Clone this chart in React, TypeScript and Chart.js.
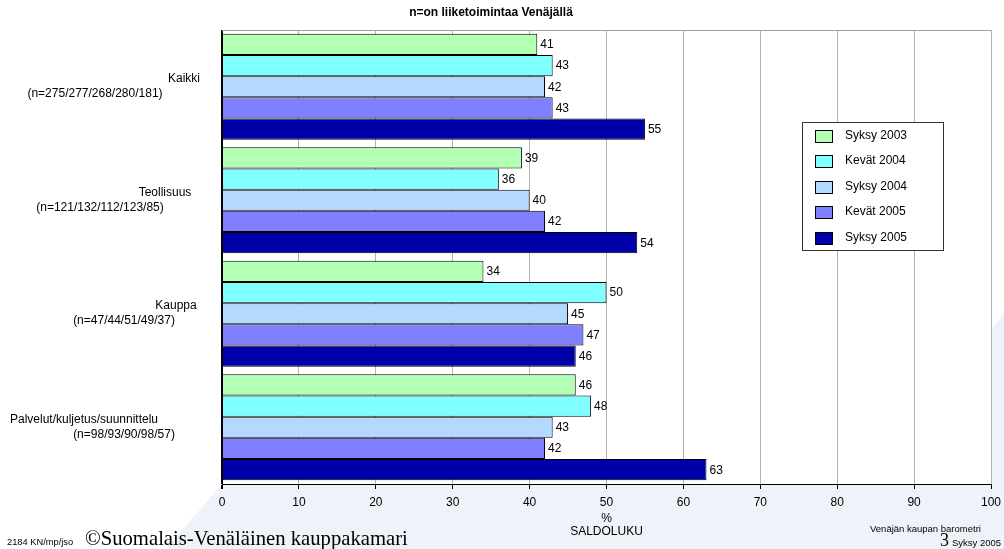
import React, { useEffect, useRef } from 'react';
import { Chart, registerables } from 'chart.js';

Chart.register(...registerables);

// ---------- data ----------
const categories = ['Kaikki', 'Teollisuus', 'Kauppa', 'Palvelut/kuljetus/suunnittelu'];
const sampleSizes = [
  '(n=275/277/268/280/181)',
  '(n=121/132/112/123/85)',
  '(n=47/44/51/49/37)',
  '(n=98/93/90/98/57)',
];
const seriesNames = ['Syksy 2003', 'Kevät 2004', 'Syksy 2004', 'Kevät 2005', 'Syksy 2005'];
const syksy2003 = [41, 39, 34, 46];
const kevat2004 = [43, 36, 50, 48];
const syksy2004 = [42, 40, 45, 43];
const kevat2005 = [43, 42, 47, 42];
const syksy2005 = [55, 54, 46, 63];
const seriesValues = [syksy2003, kevat2004, syksy2004, kevat2005, syksy2005];
const xMin = 0;
const xMax = 100;
const xStep = 10;
const chartTitle = 'n=on liiketoimintaa Venäjällä';
const axisTitle = ['%', 'SALDOLUKU'];

// ---------- styles / layout ----------
const seriesColors = ['#b3ffb3', '#80ffff', '#b3d9ff', '#8080ff', '#0000aa'];
const SANS = '"Liberation Sans", Arial, sans-serif';
const SERIF = '"Liberation Serif", "Times New Roman", serif';
// centre x of the two lines of each category label
const labelLine1X = [184, 165, 176, 84];
const labelLine2X = [95, 100, 124, 124];

const W = 1004;
const H = 549;

const decorPlugin = {
  id: 'decor',
  beforeDraw(chart: any) {
    const { ctx, chartArea: a } = chart;
    ctx.save();
    ctx.fillStyle = '#ffffff';
    ctx.fillRect(0, 0, W, H);
    // faint slide background shape
    ctx.fillStyle = '#eef2f9';
    ctx.beginPath();
    ctx.moveTo(166, H);
    ctx.lineTo(a.left, a.bottom);
    ctx.lineTo(a.right, 330);
    ctx.lineTo(W, 313);
    ctx.lineTo(W, H);
    ctx.closePath();
    ctx.fill();
    ctx.fillStyle = '#ffffff';
    ctx.fillRect(a.left, a.top, a.right - a.left, a.bottom - a.top);
    ctx.restore();
  },
  afterDatasetsDraw(chart: any) {
    const { ctx } = chart;
    ctx.save();
    ctx.font = `12px ${SANS}`;
    ctx.fillStyle = '#000';
    ctx.textAlign = 'left';
    ctx.textBaseline = 'middle';
    chart.data.datasets.forEach((ds: any, i: number) => {
      const meta = chart.getDatasetMeta(i);
      meta.data.forEach((el: any, j: number) => {
        ctx.fillText(String(ds.data[j]), el.x + 3, el.y + 0.5);
      });
    });
    ctx.restore();
  },
  afterDraw(chart: any) {
    const { ctx, chartArea: a, scales } = chart;
    ctx.save();
    // top border of plot
    ctx.strokeStyle = '#a0a0a0';
    ctx.lineWidth = 1;
    ctx.beginPath();
    ctx.moveTo(a.left, a.top + 0.5);
    ctx.lineTo(a.right, a.top + 0.5);
    ctx.stroke();

    // title
    ctx.fillStyle = '#000';
    ctx.font = `bold 12px ${SANS}`;
    ctx.textAlign = 'center';
    ctx.textBaseline = 'middle';
    ctx.fillText(chartTitle, 491, 13);

    // category labels
    ctx.font = `12px ${SANS}`;
    const y = scales.y;
    categories.forEach((c, i) => {
      const cy = y.getPixelForValue(i);
      ctx.fillText(c, labelLine1X[i], cy - 8);
      ctx.fillText(sampleSizes[i], labelLine2X[i], cy + 7);
    });

    // axis title
    const cx = (a.left + a.right) / 2;
    ctx.fillText(axisTitle[0], cx, 519);
    ctx.fillText(axisTitle[1], cx, 532);

    // legend
    const lx = 802, ly = 122, lw = 141, lh = 128;
    ctx.fillStyle = '#fff';
    ctx.fillRect(lx, ly, lw, lh);
    ctx.strokeStyle = '#333';
    ctx.lineWidth = 1;
    ctx.strokeRect(lx + 0.5, ly + 0.5, lw, lh);
    ctx.textAlign = 'left';
    seriesNames.forEach((n, i) => {
      const ry = 135.5 + i * 25.5;
      ctx.fillStyle = seriesColors[i];
      ctx.fillRect(815, Math.round(ry - 6), 17, 12);
      ctx.strokeStyle = '#000';
      ctx.strokeRect(815.5, Math.round(ry - 6) + 0.5, 17, 12);
      ctx.fillStyle = '#000';
      ctx.fillText(n, 845, ry);
    });

    // footer
    ctx.font = `9.3px ${SANS}`;
    ctx.textBaseline = 'alphabetic';
    ctx.fillText('2184 KN/mp/jso', 7, 545);
    ctx.font = `20px ${SERIF}`;
    const txt = '©Suomalais-Venäläinen kauppakamari';
    const w0 = ctx.measureText(txt).width;
    const fs = 20 * 323 / w0;
    ctx.font = `${fs}px ${SERIF}`;
    ctx.fillText(txt, 85, 545);
    ctx.font = `9.5px ${SANS}`;
    ctx.fillText('Venäjän kaupan barometri', 870, 532);
    ctx.font = `18px ${SERIF}`;
    ctx.fillText('3', 940, 546);
    ctx.font = `9.5px ${SANS}`;
    ctx.fillText('Syksy 2005', 952, 546);
    ctx.restore();
  },
};

export default function App() {
  const ref = useRef<HTMLCanvasElement | null>(null);
  useEffect(() => {
    document.body.style.margin = '0';
    if (!ref.current) return;
    const chart = new Chart(ref.current, {
      type: 'bar',
      data: {
        labels: categories,
        datasets: seriesNames.map((n, i) => ({
          label: n,
          data: seriesValues[i],
          backgroundColor: seriesColors[i],
          borderColor: '#000',
          borderWidth: 1,
          categoryPercentage: 0.935,
          barPercentage: 1,
        })),
      },
      options: {
        indexAxis: 'y',
        responsive: false,
        animation: false,
        devicePixelRatio: 1,
        layout: { padding: { left: 222, right: 13, top: 30, bottom: 0 } },
        plugins: { legend: { display: false }, tooltip: { enabled: false }, title: { display: false } },
        scales: {
          x: {
            min: xMin,
            max: xMax,
            ticks: { stepSize: xStep, color: '#000', font: { family: SANS, size: 12 }, padding: 6 },
            grid: {
              color: (c: any) => (c.tick && c.tick.value === 0 ? '#000' : '#b4b4b4'),
              lineWidth: (c: any) => (c.tick && c.tick.value === 0 ? 2 : 1),
              tickColor: '#000',
              tickLength: 5,
            },
            border: { display: true, color: '#000', width: 1 },
            afterFit: (s: any) => {
              s.height = 65;
              s.paddingLeft = 0;
              s.paddingRight = 0;
            },
          },
          y: { display: false },
        },
      },
      plugins: [decorPlugin],
    } as any);
    return () => chart.destroy();
  }, []);
  return (
    <div style={{ width: W, height: H }}>
      <canvas ref={ref} width={W} height={H} style={{ display: 'block', width: W, height: H }} />
    </div>
  );
}
